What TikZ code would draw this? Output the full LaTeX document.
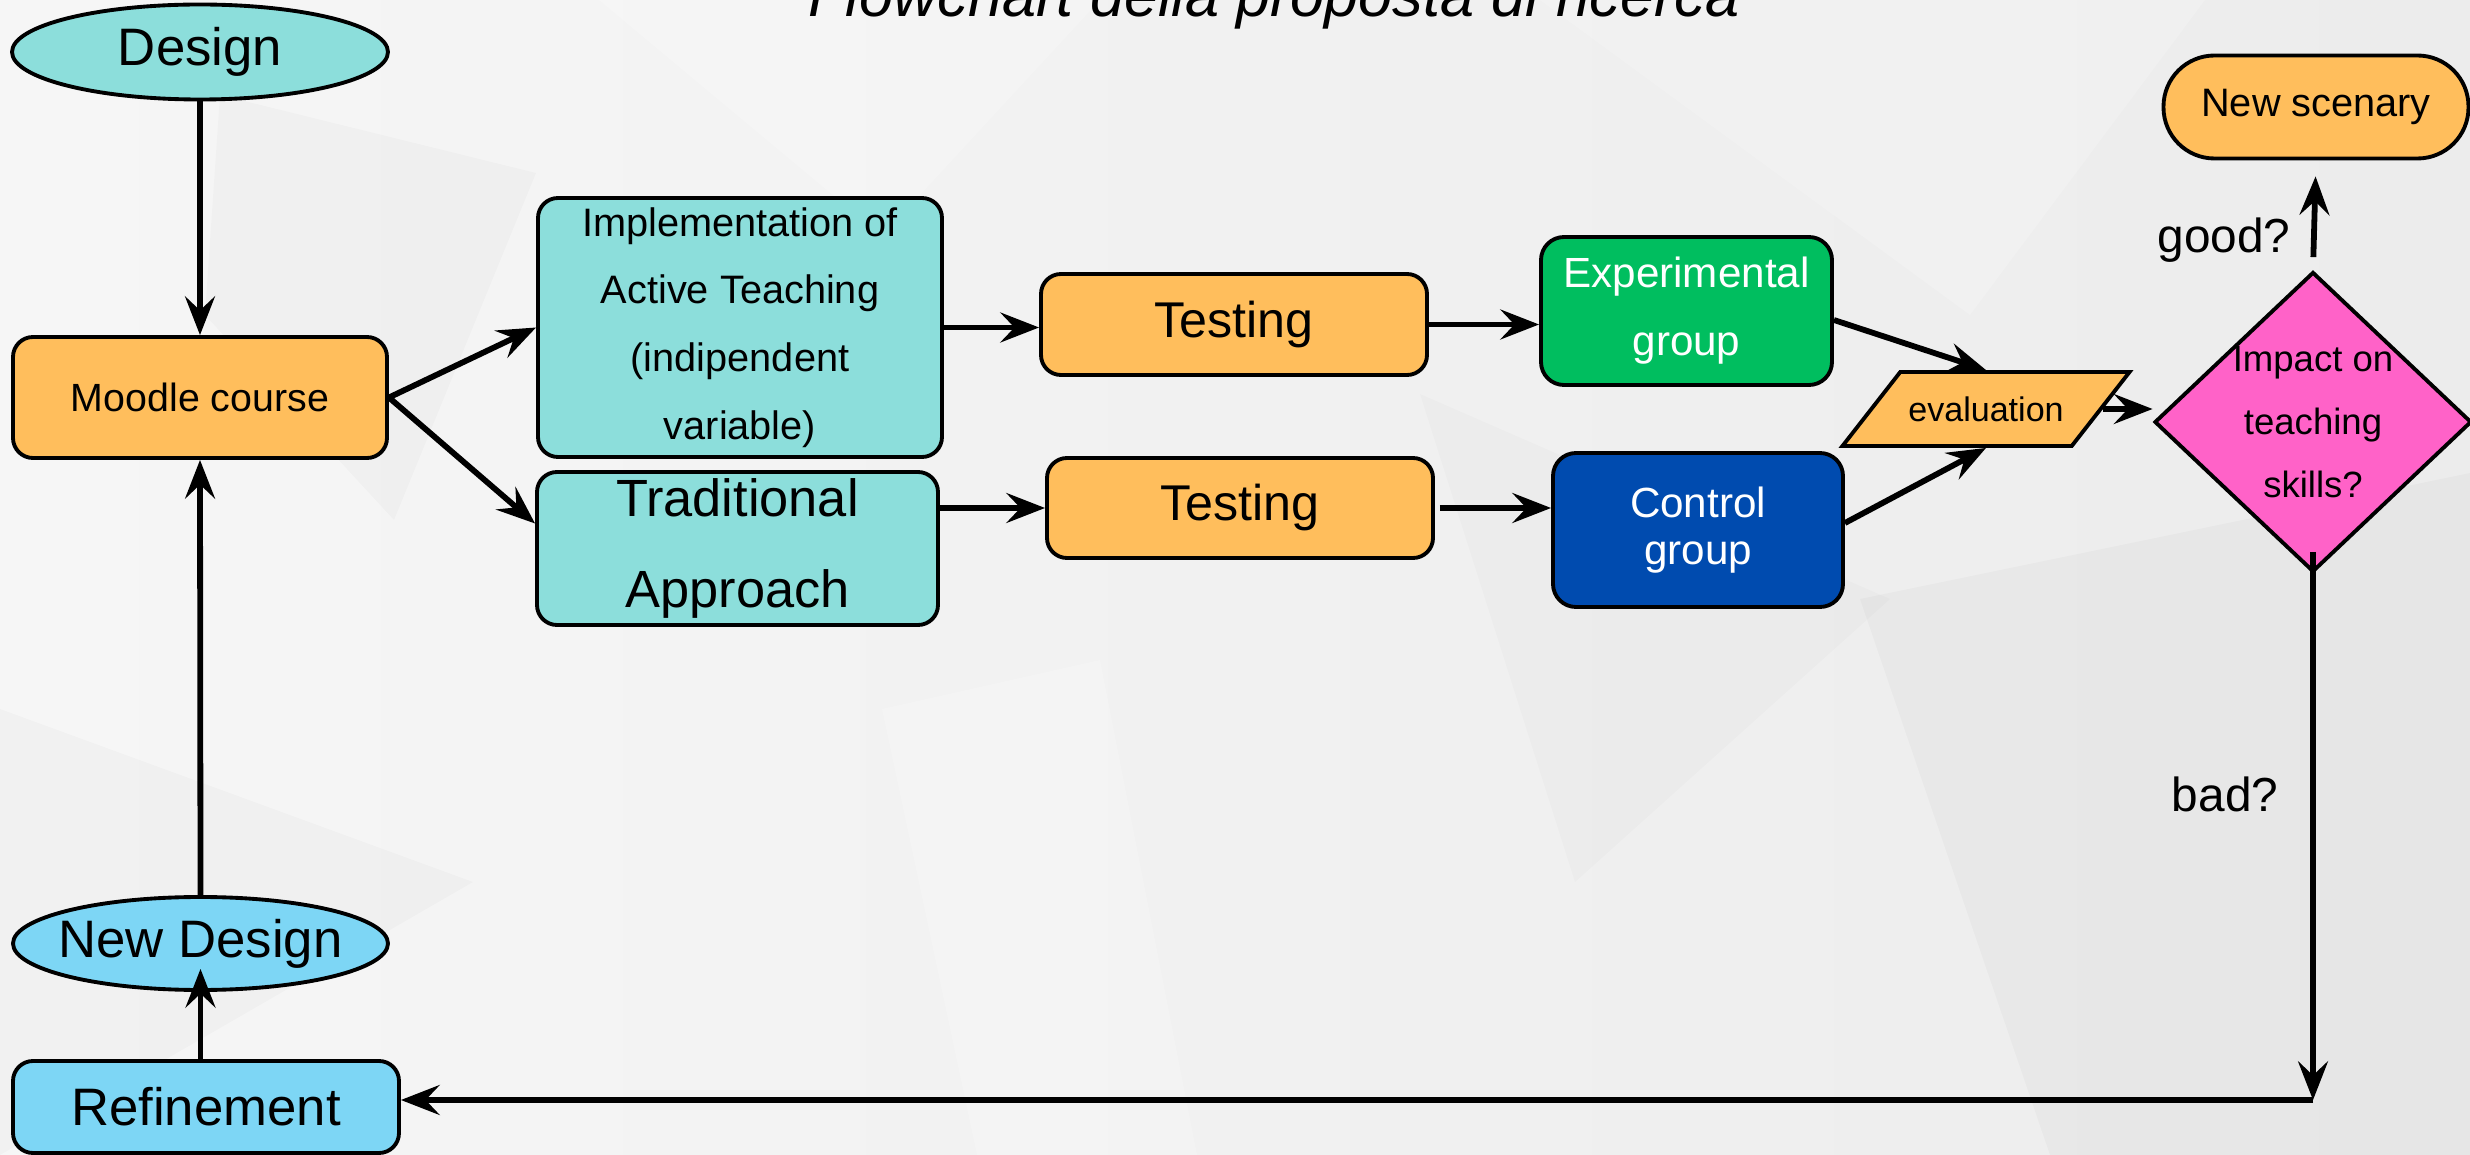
\documentclass[tikz,border=0pt]{standalone}
\usepackage{fontspec}
\setmainfont{Liberation Sans}
\usetikzlibrary{shapes.geometric,arrows.meta}
\definecolor{turq}{RGB}{140,222,219}
\definecolor{orng}{RGB}{255,190,92}
\definecolor{sky}{RGB}{125,214,245}
\definecolor{grn}{RGB}{0,190,95}
\definecolor{navy}{RGB}{0,75,175}
\definecolor{pinkish}{RGB}{255,98,200}
\newcommand{\fs}[2]{\fontsize{#1}{#2}\selectfont}

\begin{document}
\begin{tikzpicture}[
  box/.style={draw, line width=1.1pt, rounded corners=0.2cm, inner sep=0pt, align=center},
  term/.style={draw, line width=1.1pt, ellipse, inner xsep=-1cm, inner ysep=0pt},
  arr/.style={-{Stealth[length=11pt,width=8.5pt,inset=4pt]}, line width=1.65pt}]
        \useasboundingbox (0,0) rectangle (24.7,-11.55);
        % background
        \shade[left color=gray!7, right color=gray!15] (0,0) rectangle (24.7,-11.55);
        \fill[black, opacity=0.02] (2.2,-0.95) -- (5.36,-1.73) -- (3.94,-5.2) -- (2.05,-3.15) -- cycle;
        \fill[white, opacity=0.2] (5.99,0) -- (11.0,0) -- (8.82,-2.36) -- cycle;
        \fill[black, opacity=0.025] (18.6,-5.99) -- (24.7,-4.73) -- (24.7,-11.55) -- (20.5,-11.55) -- cycle;
        \fill[white, opacity=0.18] (8.82,-7.09) -- (11.0,-6.6) -- (11.97,-11.55) -- (9.77,-11.55) -- cycle;
        \fill[black, opacity=0.02] (0,-7.09) -- (4.73,-8.82) -- (0,-11.55) -- cycle;
        \fill[white, opacity=0.18] (15.4,0) -- (22.05,0) -- (19.7,-3.15) -- cycle;
        \fill[black, opacity=0.015] (14.2,-3.94) -- (18.9,-5.99) -- (15.75,-8.82) -- cycle;
        % title
        \node[anchor=base, font=\fs{17.4}{20}\itshape] (title) at (12.74,-0.167) {Flowchart della proposta di ricerca};
        % nodes
        \node[term, fill=turq, minimum width=3.76cm, minimum height=0.95cm, font=\fs{15}{18}] (D) at (2.00,-0.52) {Design};
        \node[box, fill=orng, minimum width=3.74cm, minimum height=1.21cm, font=\fs{11.2}{13}] (M) at (2.00,-3.975) {Moodle course};
        \node[box, fill=turq, minimum width=4.04cm, minimum height=2.59cm, font=\fs{11.3}{19.3}] (A) at (7.40,-3.275) {Implementation of\\Active Teaching\\(indipendent\\variable)};
        \node[box, fill=turq, minimum width=4.01cm, minimum height=1.53cm, font=\fs{14.9}{25.8}] (Tr) at (7.375,-5.485) {Traditional\\Approach};
        \node[box, fill=orng, minimum width=3.86cm, minimum height=1.01cm, font=\fs{14.3}{17}] (T1) at (12.34,-3.245) {Testing};
        \node[box, fill=orng, minimum width=3.86cm, minimum height=1.00cm, font=\fs{14.3}{17}] (T2) at (12.40,-5.08) {Testing};
        \node[box, fill=grn, text=white, rounded corners=0.23cm, minimum width=2.91cm, minimum height=1.48cm, font=\fs{12}{19.4}] (E) at (16.865,-3.11) {Experimental\\group};
        \node[box, fill=navy, text=white, rounded corners=0.23cm, minimum width=2.90cm, minimum height=1.54cm, font=\fs{12}{13.3}] (C) at (16.98,-5.30) {Control\\group};
        \node[trapezium, trapezium left angle=52, trapezium right angle=128, draw, line width=1.1pt, fill=orng, inner xsep=0.08cm, inner ysep=0.245cm, font=\fs{9.7}{12}] (Ev) at (19.86,-4.09) {evaluation};
        \node[diamond, draw, line width=1.1pt, fill=pinkish, minimum width=3.17cm, minimum height=3.0cm, inner sep=0pt] (I) at (23.13,-4.22) {};
        \node[align=center, font=\fs{10.4}{17.9}] (It) at (I) {Impact on\\teaching\\skills?};
        \node[box, fill=orng, rounded corners=0.51cm, minimum width=3.05cm, minimum height=1.03cm, font=\fs{11.3}{13}] (S) at (23.16,-1.07) {New scenary};
        \node[term, fill=sky, minimum width=3.75cm, minimum height=0.93cm, font=\fs{15}{18}] (ND) at (2.005,-9.435) {New Design};
        \node[box, fill=sky, minimum width=3.86cm, minimum height=0.92cm, font=\fs{15}{18}] (R) at (2.06,-11.07) {Refinement};
        \node[anchor=base, font=\fs{13.6}{16}] (g) at (22.24,-2.53) {good?};
        \node[anchor=base, font=\fs{13.6}{16}] (b) at (22.25,-8.12) {bad?};
        \coordinate (K) at (23.13,-11.00);%corner
        % connectors
        \draw[arr] (D.south) -- (M.north);
        \draw[arr] (M.east) -- (A.west);
        \draw[arr] (M.east) -- ([yshift=0.25cm]Tr.west);
        \draw[arr] (A.east) -- (A.east -| T1.west);
        \draw[arr] (T2.west -| Tr.east) -- (T2.west);
        \draw[arr] (T1.east) -- (T1.east -| E.west);
        \draw[arr] ([xshift=0.05cm]T2.east) -- (T2.east -| C.west);
        \draw[arr] ([yshift=-0.09cm]E.east) -- (Ev.north);
        \draw[arr] ([yshift=0.07cm]C.east) -- (Ev.south);
        \draw[arr] (Ev.east) -- (Ev.east -| I.west);
        \draw[arr, shorten <=0.13cm, shorten >=0.16cm] (I.north) -- (S.south);
        \draw[arr] ([yshift=0.22cm]I.south) -- (K);
        \draw[arr] (K) -- (K -| R.east);
        \draw[arr] (ND.south |- R.north) -- ([yshift=0.23cm]ND.south);
        \draw[arr] (ND.north) -- (M.south);
\end{tikzpicture}
\end{document}
